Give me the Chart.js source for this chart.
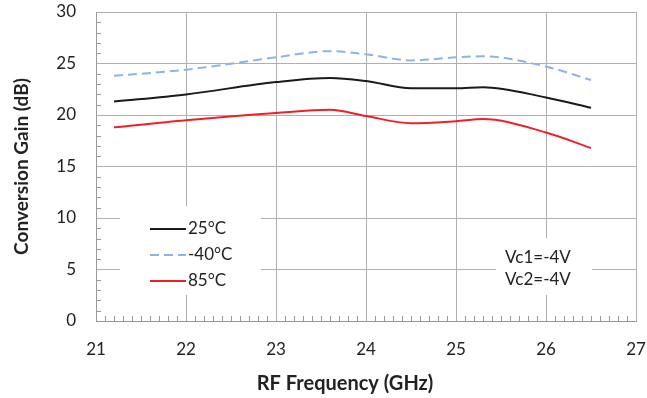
<!DOCTYPE html>
<html>
<head>
<meta charset="utf-8">
<script src="https://cdn.jsdelivr.net/npm/chart.js@4/dist/chart.umd.min.js"></script>
<style>
  html, body { margin: 0; padding: 0; background: #fff; }
  #wrap { width: 647px; height: 398px; }
</style>
</head>
<body>
<div id="wrap"><canvas id="gainChart" width="647" height="398"></canvas></div>
<script>
// RF frequency points (GHz)
const freqs = [21.2, 22, 23, 23.6, 24, 24.5, 25, 25.3, 26, 26.5]
// Conversion gain (dB) per temperature
const gain25 = [21.3, 22.0, 23.2, 23.6, 23.3, 22.6, 22.6, 22.7, 21.7, 20.7]
const gainM40 = [23.8, 24.4, 25.6, 26.2, 25.9, 25.3, 25.6, 25.7, 24.7, 23.4]
const gain85 = [18.8, 19.5, 20.2, 20.5, 19.9, 19.2, 19.4, 19.6, 18.3, 16.8]
const seriesLabels = ['25°C', '-40°C', '85°C']
const biasNotes = ['Vc1=-4V', 'Vc2=-4V']
const xTitle = 'RF Frequency (GHz)'

const FONT = 'Lato, "Open Sans", sans-serif'
const TEXT = '#222'

const toPoints = (ys) => freqs.map((f, i) => ({ x: f, y: ys[i] }))

// inward minor ticks, white boxes for legend and notes
const decorations = {
  id: 'decorations',
  beforeDatasetsDraw(chart) {
    const { ctx, chartArea: a, scales: { x, y } } = chart
    ctx.save()
    ctx.strokeStyle = '#999'
    ctx.lineWidth = 1
    ctx.beginPath()
    for (let v = 1; v < 30; v++) {
      if (v % 5 === 0) continue
      const py = Math.round(y.getPixelForValue(v)) + 0.5
      ctx.moveTo(a.left, py)
      ctx.lineTo(a.left + 5, py)
    }
    for (let k = 1; k < 60; k++) {
      if (k % 10 === 0) continue
      const px = Math.round(x.getPixelForValue(21 + k / 10)) + 0.5
      ctx.moveTo(px, a.bottom)
      ctx.lineTo(px, a.bottom - 5)
    }
    ctx.stroke()

    // white boxes interrupt the grid like the original
    ctx.fillStyle = '#fff'
    ctx.fillRect(120, 206, 141, 89)
    ctx.fillRect(496, 238, 96, 57)

    // legend
    ctx.font = '17px ' + FONT
    ctx.textBaseline = 'middle'
    ctx.textAlign = 'left'
    const rows = [229, 255, 281]
    chart.data.datasets.forEach((ds, i) => {
      ctx.strokeStyle = ds.borderColor
      ctx.lineWidth = ds.borderWidth
      ctx.setLineDash(ds.borderDash || [])
      ctx.beginPath()
      ctx.moveTo(150, rows[i])
      ctx.lineTo(186, rows[i])
      ctx.stroke()
      ctx.setLineDash([])
      ctx.fillStyle = TEXT
      ctx.fillText(ds.label, 188, rows[i])
    })

    // bias note
    ctx.textAlign = 'center'
    ctx.fillText(biasNotes[0], 538, 258)
    ctx.fillText(biasNotes[1], 538, 280)

    // x axis title sits left of the plot centre in the original
    ctx.font = 'bold 20px ' + FONT
    ctx.fillText(xTitle, 345, 384)
    ctx.restore()
  }
}

const ctx = document.getElementById('gainChart').getContext('2d')
new Chart(ctx, {
  type: 'line',
  data: {
    datasets: [
      { label: seriesLabels[0], data: toPoints(gain25), borderColor: '#1a1a1a', borderWidth: 2 },
      { label: seriesLabels[1], data: toPoints(gainM40), borderColor: '#8db4e2', borderWidth: 2, borderDash: [9, 5] },
      { label: seriesLabels[2], data: toPoints(gain85), borderColor: '#f0202a', borderWidth: 2 }
    ]
  },
  options: {
    responsive: false,
    animation: false,
    layout: { padding: { top: 12, right: 11, left: 0, bottom: 0 } },
    elements: {
      point: { radius: 0 },
      line: { cubicInterpolationMode: 'monotone', fill: false }
    },
    scales: {
      x: {
        type: 'linear',
        min: 21,
        max: 27,
        // fixed box, no extra tick-label padding on the sides
        afterFit: (s) => { s.height = 77; s.paddingLeft = 0; s.paddingRight = 0 },
        ticks: { stepSize: 1, color: TEXT, font: { family: FONT, size: 17 }, padding: 18 },
        grid: { color: '#b0b0b0', drawTicks: false },
        border: { color: '#999' }
      },
      y: {
        min: 0,
        max: 30,
        afterFit: (s) => { s.width = 96; s.paddingTop = 0; s.paddingBottom = 0 },
        ticks: { stepSize: 5, color: TEXT, font: { family: FONT, size: 17 }, padding: 20 },
        grid: { color: '#b0b0b0', drawTicks: false },
        border: { color: '#999' },
        title: { display: true, text: 'Conversion Gain (dB)', color: TEXT, font: { family: FONT, size: 19, weight: 'bold' }, padding: { top: 10, bottom: 0 } }
      }
    },
    plugins: {
      legend: { display: false },
      tooltip: { enabled: false }
    }
  },
  plugins: [decorations]
})
</script>
</body>
</html>
